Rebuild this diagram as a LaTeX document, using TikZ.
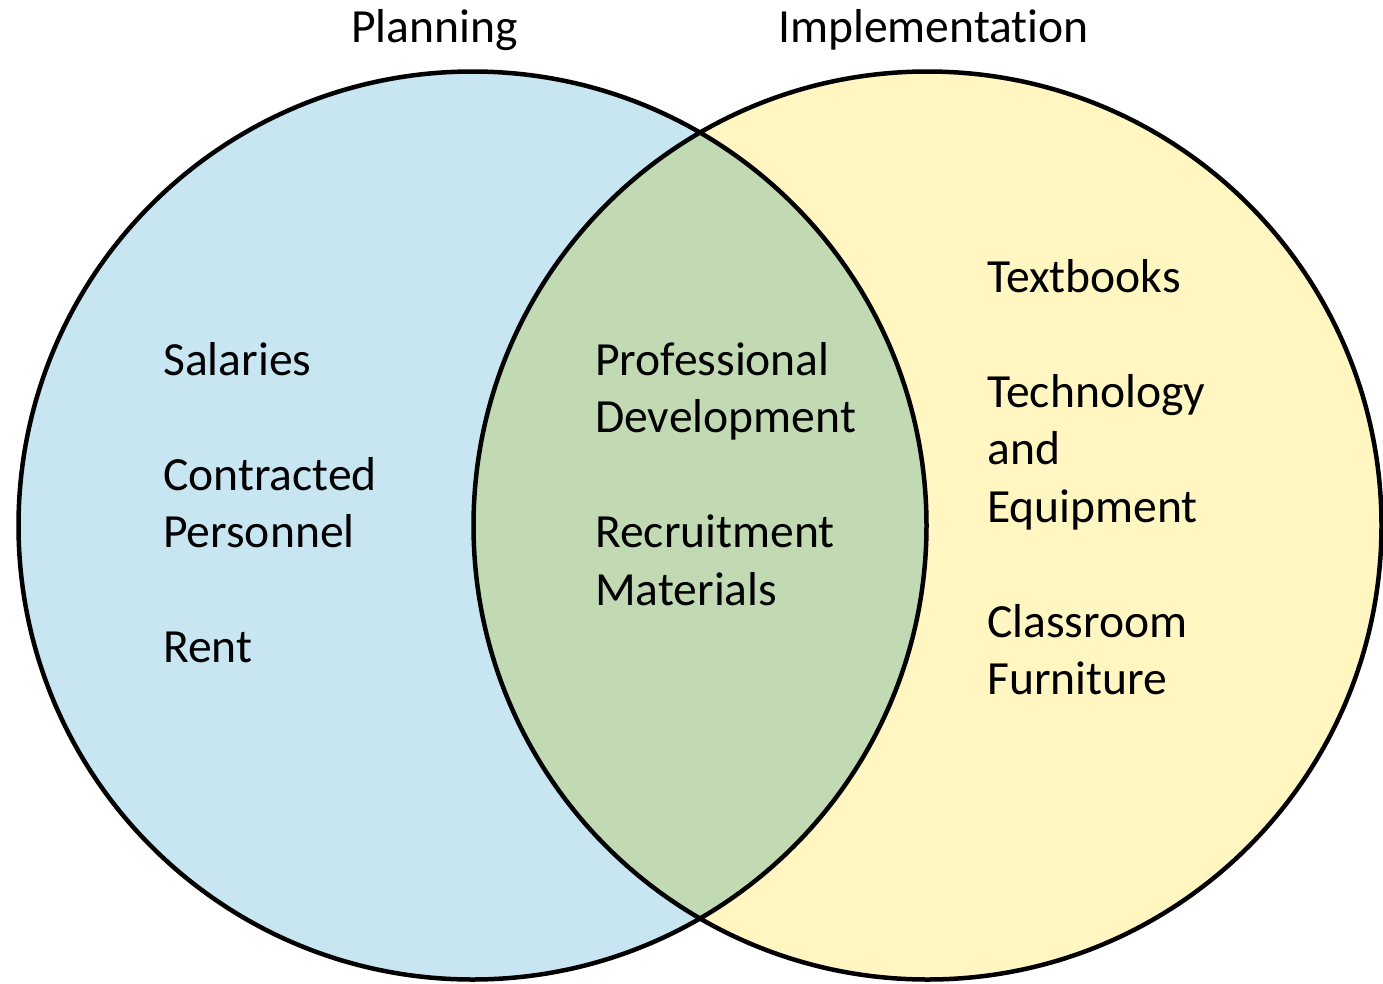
\documentclass[tikz,border=0pt]{standalone}
\usepackage{fontspec}
\setmainfont{Carlito}[Ligatures=NoCommon]
\begin{document}
\begin{tikzpicture}[x=1pt,y=-1pt,
  lbl/.style={anchor=base west,inner sep=0pt,font=\fontsize{47.6}{57.5}\selectfont},
  ring/.style={draw=black,line width=4.5pt}]
\definecolor{planblue}{RGB}{199,230,242}
\definecolor{implyellow}{RGB}{255,246,194}
\definecolor{bothgreen}{RGB}{194,218,180}
\useasboundingbox (0,0) rectangle (1383,983);
% circle centres and radius
\coordinate (cl) at (472.5,525.5);
\coordinate (cr) at (927.5,525.5);
\def\rad{454}
% fills
\fill[planblue] (cl) circle[radius=\rad];
\fill[implyellow] (cr) circle[radius=\rad];
\begin{scope}
  \clip (cl) circle[radius=\rad];
  \fill[bothgreen] (cr) circle[radius=\rad];
\end{scope}
% outlines
\draw[ring] (cl) circle[radius=\rad];
\draw[ring] (cr) circle[radius=\rad];
% headings
\node[lbl] (planning) at (351,42) {Planning};
\node[lbl] (implementation) at (778,42) {Implementation};
% planning only
\node[lbl] (salaries) at (163,375) {Salaries};
\node[lbl] (contracted) at (163,490) {Contracted};
\node[lbl] (personnel) at (163,547.5) {Personnel};
\node[lbl] (rent) at (163,662.5) {Rent};
% shared
\node[lbl] (professional) at (595,375) {Professional};
\node[lbl] (development) at (595,432.5) {Development};
\node[lbl] (recruitment) at (595,547.5) {Recruitment};
\node[lbl] (materials) at (595,605) {Materials};
% implementation only
\node[lbl] (textbooks) at (987,292) {Textbooks};
\node[lbl] (technology) at (987,407) {Technology};
\node[lbl] (and) at (987,464.5) {and};
\node[lbl] (equipment) at (987,522) {Equipment};
\node[lbl] (classroom) at (987,637) {Classroom};
\node[lbl] (furniture) at (987,694.5) {Furniture};
\end{tikzpicture}
\end{document}
